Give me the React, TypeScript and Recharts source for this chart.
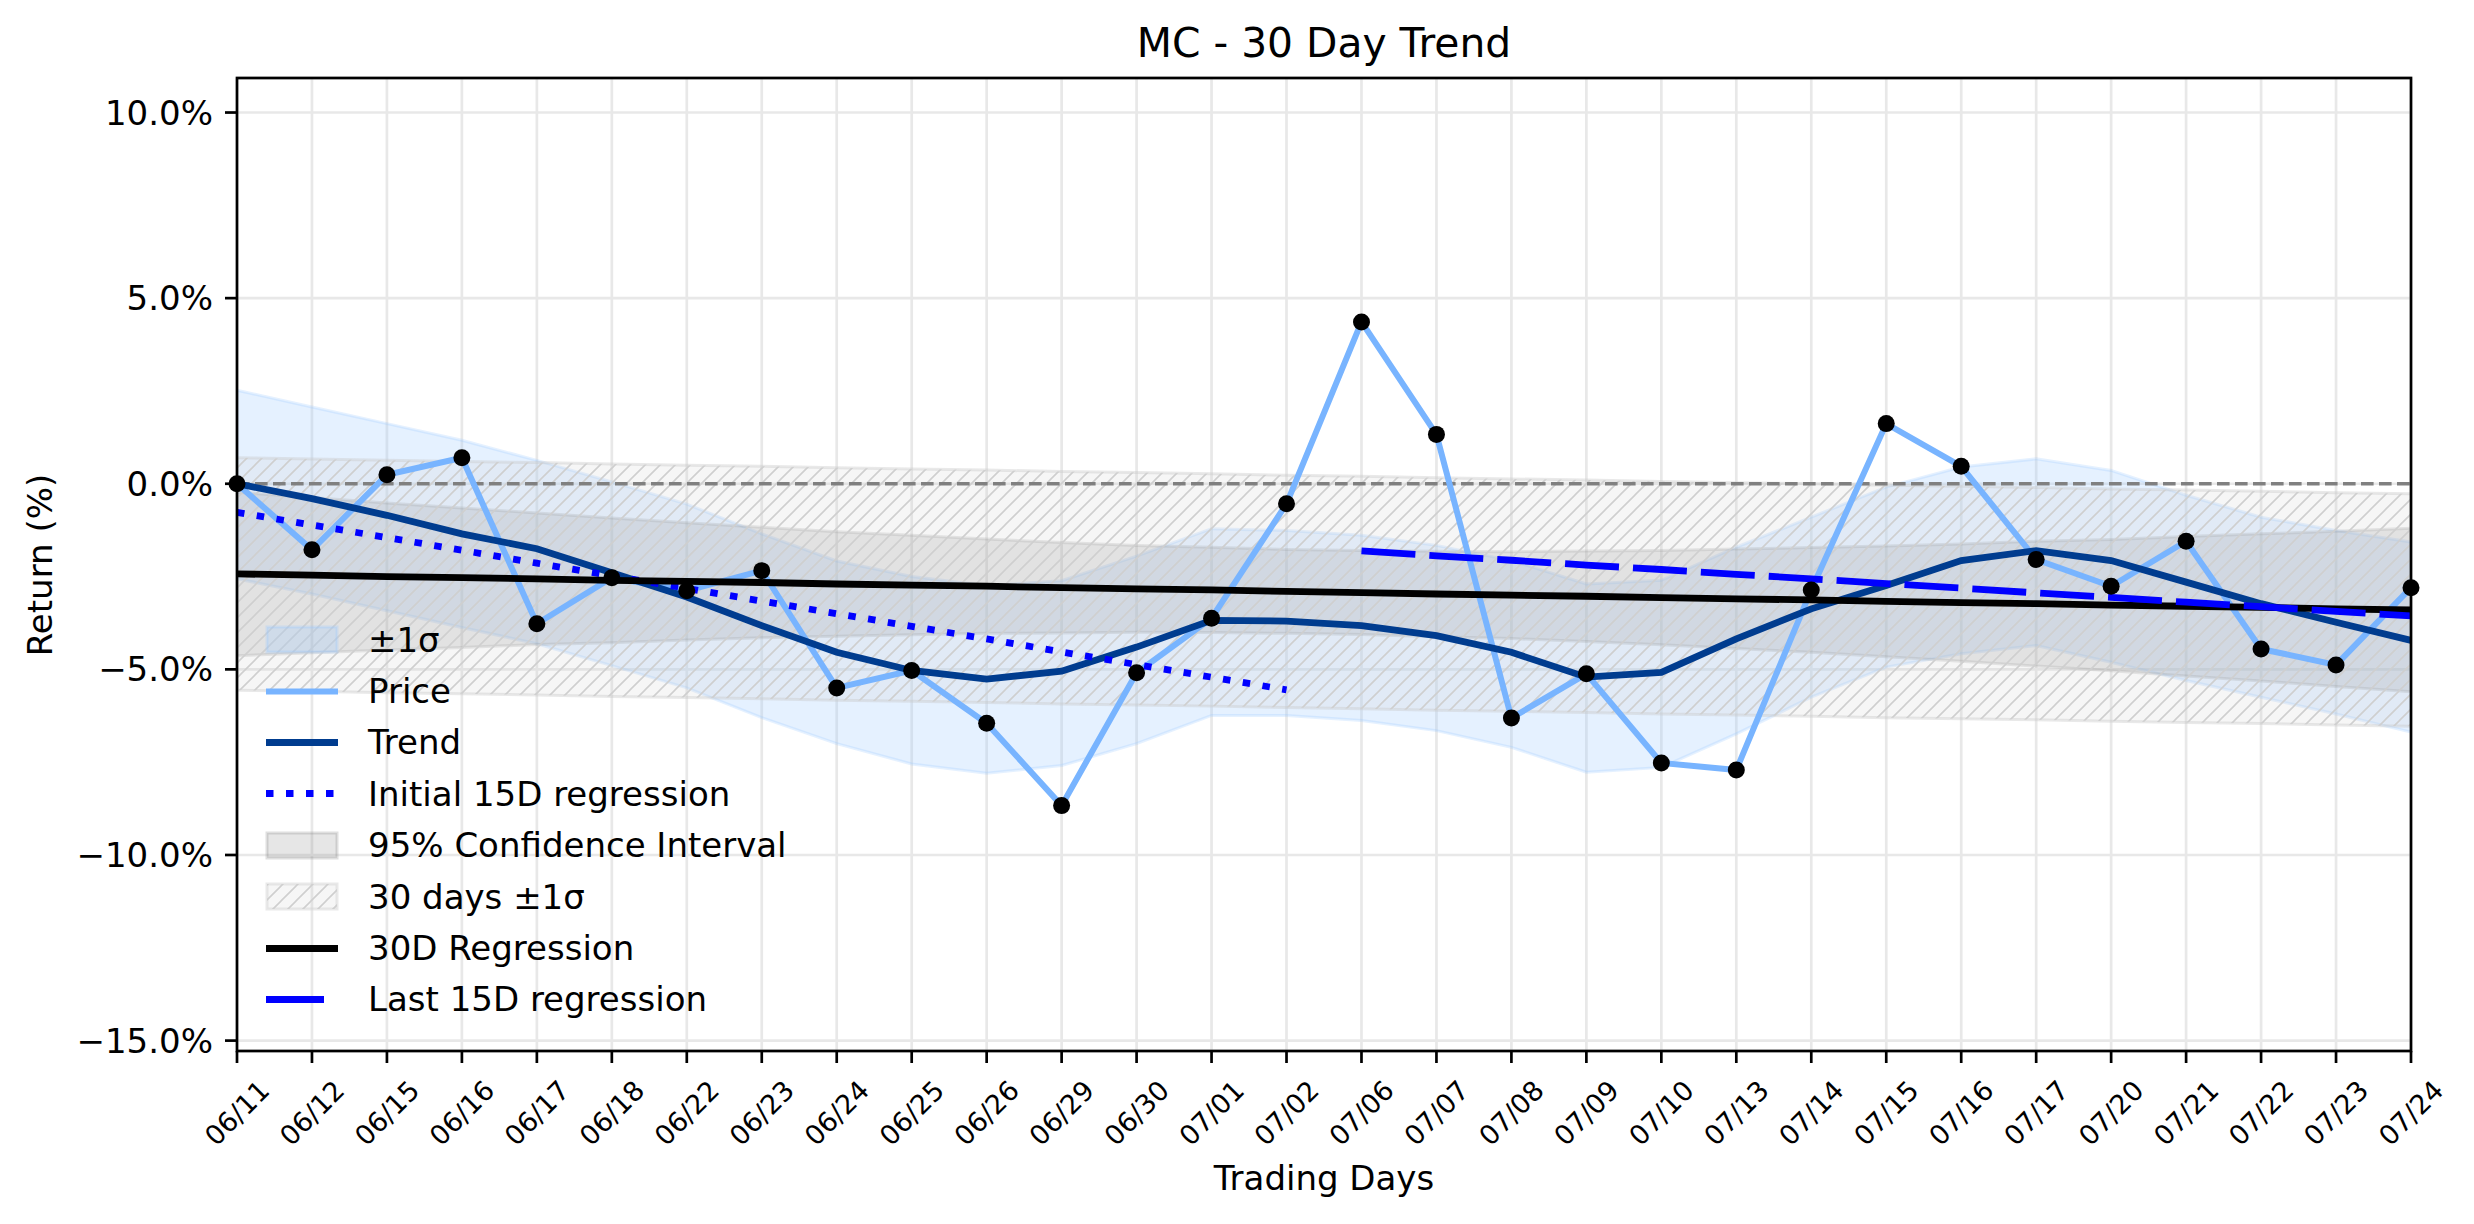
import React from 'react';
import { ComposedChart, Area, Line, XAxis, YAxis, CartesianGrid, ReferenceLine } from 'recharts';

const dates = [
  '06/11', '06/12', '06/15', '06/16', '06/17', '06/18', '06/22', '06/23', '06/24', '06/25',
  '06/26', '06/29', '06/30', '07/01', '07/02', '07/06', '07/07', '07/08', '07/09', '07/10',
  '07/13', '07/14', '07/15', '07/16', '07/17', '07/20', '07/21', '07/22', '07/23', '07/24',
];

const price = [
  0, -1.78, 0.24, 0.7, -3.77, -2.53, -2.88, -2.34, -5.5, -5.03,
  -6.45, -8.67, -5.09, -3.62, -0.54, 4.36, 1.33, -6.31, -5.12, -7.52,
  -7.71, -2.86, 1.62, 0.47, -2.04, -2.76, -1.55, -4.45, -4.88, -2.8,
];

const trend = [
  0, -0.4, -0.85, -1.35, -1.75, -2.4, -3.05, -3.82, -4.54, -5.03,
  -5.26, -5.05, -4.4, -3.68, -3.7, -3.82, -4.09, -4.54, -5.21, -5.08,
  -4.18, -3.37, -2.74, -2.07, -1.8, -2.07, -2.65, -3.23, -3.73, -4.22,
];

const sigmaHigh = [
  2.52, 2.07, 1.62, 1.17, 0.63, 0.05, -0.55, -1.35, -2.08, -2.5,
  -2.75, -2.61, -1.95, -1.21, -1.26, -1.39, -1.66, -2.07, -2.7, -2.6,
  -1.71, -0.9, -0.09, 0.45, 0.67, 0.36, -0.31, -0.9, -1.26, -1.57,
];

const sigmaLow = [
  -2.56, -2.97, -3.42, -3.87, -4.31, -4.9, -5.5, -6.3, -7.0, -7.55,
  -7.8, -7.59, -7.0, -6.24, -6.24, -6.38, -6.65, -7.1, -7.77, -7.64,
  -6.74, -5.75, -4.94, -4.58, -4.36, -4.81, -5.3, -5.75, -6.2, -6.69,
];

const firstReg = [
  -0.77, -1.11, -1.45, -1.79, -2.14, -2.48, -2.82, -3.16, -3.5, -3.84,
  -4.18, -4.53, -4.87, -5.21, -5.55,
];

const lastReg = [
  -1.81, -1.94, -2.06, -2.19, -2.31, -2.44, -2.56, -2.69, -2.81, -2.94,
  -3.06, -3.19, -3.31, -3.44, -3.56,
];

const reg30 = [
  -2.43, -2.46, -2.5, -2.53, -2.56, -2.6, -2.63, -2.66, -2.7, -2.73,
  -2.76, -2.8, -2.83, -2.86, -2.9, -2.93, -2.97, -3.0, -3.03, -3.07,
  -3.1, -3.13, -3.17, -3.2, -3.23, -3.27, -3.3, -3.33, -3.37, -3.4,
];

const ciHigh = [
  -0.23, -0.37, -0.52, -0.65, -0.79, -0.92, -1.05, -1.17, -1.29, -1.39,
  -1.49, -1.58, -1.66, -1.71, -1.77, -1.8, -1.82, -1.83, -1.81, -1.8,
  -1.76, -1.72, -1.68, -1.62, -1.55, -1.5, -1.42, -1.35, -1.28, -1.2,
];

const ciLow = [
  -4.63, -4.55, -4.48, -4.41, -4.33, -4.28, -4.21, -4.15, -4.11, -4.07,
  -4.03, -4.02, -4.0, -4.01, -4.03, -4.06, -4.12, -4.17, -4.25, -4.34,
  -4.44, -4.54, -4.66, -4.78, -4.91, -5.04, -5.18, -5.31, -5.46, -5.6,
];

const band30High = [
  0.7, 0.67, 0.63, 0.6, 0.57, 0.53, 0.5, 0.47, 0.43, 0.4,
  0.37, 0.33, 0.3, 0.27, 0.23, 0.2, 0.16, 0.13, 0.1, 0.06,
  0.03, 0.0, -0.04, -0.07, -0.1, -0.14, -0.17, -0.2, -0.24, -0.27,
];

const band30Low = [
  -5.56, -5.59, -5.63, -5.66, -5.69, -5.73, -5.76, -5.79, -5.83, -5.86,
  -5.89, -5.93, -5.96, -5.99, -6.03, -6.06, -6.1, -6.13, -6.16, -6.2,
  -6.23, -6.26, -6.3, -6.33, -6.36, -6.4, -6.43, -6.46, -6.5, -6.53,
];

const yTicks = [-15, -10, -5, 0, 5, 10];

const data = dates.map((d, i) => ({
  i,
  date: d,
  price: price[i],
  trend: trend[i],
  sigma: [sigmaLow[i], sigmaHigh[i]],
  ci: [ciLow[i], ciHigh[i]],
  band30: [band30Low[i], band30High[i]],
  reg30: reg30[i],
  firstReg: i < firstReg.length ? firstReg[i] : null,
  lastReg: i >= 15 ? lastReg[i - 15] : null,
}));

const FONT = '"DejaVu Sans", sans-serif';
const PRICE = '#78b4ff';
const TREND = '#003c8f';
const SIGMA = '#99c8ff';

// plot box in page pixels
const L = 237, R = 2411, T = 78, B = 1051;

const fmtPct = (v: number) => (v < 0 ? '\u2212' : '') + Math.abs(v).toFixed(1) + '%';

function XTick(props: any) {
  const { x, y, payload } = props;
  return (
    <g transform={`translate(${x},${y + 50})`}>
      <text transform="rotate(-45)" textAnchor="middle" dominantBaseline="central" fontSize={27} fontFamily={FONT} fill="#000">
        {dates[payload.value]}
      </text>
    </g>
  );
}

const legendItems = [
  { label: '\u00b11\u03c3', kind: 'sigma' },
  { label: 'Price', kind: 'price' },
  { label: 'Trend', kind: 'trend' },
  { label: 'Initial 15D regression', kind: 'first' },
  { label: '95% Confidence Interval', kind: 'ci' },
  { label: '30 days \u00b11\u03c3', kind: 'band' },
  { label: '30D Regression', kind: 'reg' },
  { label: 'Last 15D regression', kind: 'last' },
];

function Handle({ kind }: { kind: string }) {
  const line = (stroke: string, w: number, dash?: string, len = 72) => (
    <line x1={0} x2={len} y1={25.5} y2={25.5} stroke={stroke} strokeWidth={w} strokeDasharray={dash} />
  );
  let el: React.ReactNode = null;
  if (kind === 'sigma') el = <rect x={1} y={13} width={70} height={25} fill={SIGMA} fillOpacity={0.25} stroke={SIGMA} strokeOpacity={0.3} strokeWidth={3} />;
  if (kind === 'price') el = line(PRICE, 6);
  if (kind === 'trend') el = line(TREND, 6.8);
  if (kind === 'first') el = line('#0000ff', 6.8, '7.5 12.5');
  if (kind === 'ci') el = <rect x={1} y={13} width={70} height={25} fill="#808080" fillOpacity={0.2} stroke="#808080" strokeOpacity={0.25} strokeWidth={3} />;
  if (kind === 'band') el = (
    <g>
      <rect x={1} y={13} width={70} height={25} fill="#d3d3d3" fillOpacity={0.2} stroke="#d3d3d3" strokeOpacity={0.5} strokeWidth={3} />
      <rect x={1} y={13} width={70} height={25} fill="url(#hatch2)" />
    </g>
  );
  if (kind === 'reg') el = line('#000', 6.8);
  if (kind === 'last') el = line('#0000ff', 6.8, undefined, 58);
  return (
    <svg width={80} height={51} style={{ display: 'block', overflow: 'visible' }}>
      <defs>
        <pattern id="hatch2" patternUnits="userSpaceOnUse" width={15} height={15}>
          <path d="M-2,17 L17,-2 M-2,2 L2,-2 M13,17 L17,13" stroke="#cfcfcf" strokeWidth={1.6} />
        </pattern>
      </defs>
      {el}
    </svg>
  );
}

export default function App() {
  return (
    <div style={{ position: 'absolute', left: 0, top: 0, width: 2474, height: 1224, background: '#fff', fontFamily: FONT }}>
      <ComposedChart
        width={2474}
        height={1224}
        data={data}
        margin={{ top: T, right: 2474 - R, left: L - 150, bottom: 1224 - B - 150 }}
      >
        <defs>
          <pattern id="hatch" patternUnits="userSpaceOnUse" width={15} height={15}>
            <path d="M-2,17 L17,-2 M-2,2 L2,-2 M13,17 L17,13" stroke="#cfcfcf" strokeWidth={1.6} />
          </pattern>
        </defs>
        <CartesianGrid stroke="#e8e8e8" strokeWidth={2.7} />
        <XAxis
          dataKey="i"
          type="number"
          domain={[0, 29]}
          ticks={data.map((d) => d.i)}
          interval={0}
          height={150}
          axisLine={false}
          tickLine={{ stroke: '#000', strokeWidth: 2.7 }}
          tickSize={12}
          tickMargin={0}
          tick={<XTick />}
        />
        <YAxis
          type="number"
          domain={[-15.28, 10.93]}
          ticks={yTicks}
          allowDataOverflow
          width={150}
          axisLine={false}
          tickLine={{ stroke: '#000', strokeWidth: 2.7 }}
          tickSize={12}
          tickMargin={12}
          tickFormatter={fmtPct}
          tick={{ fontSize: 34, fill: '#000', fontFamily: FONT }}
        />
        <Area dataKey="sigma" type="linear" fill={SIGMA} fillOpacity={0.25} stroke={SIGMA} strokeOpacity={0.25} strokeWidth={3} isAnimationActive={false} dot={false} activeDot={false} />
        <Area dataKey="ci" type="linear" fill="#808080" fillOpacity={0.2} stroke="#808080" strokeOpacity={0.2} strokeWidth={3} isAnimationActive={false} dot={false} activeDot={false} />
        <Area dataKey="band30" type="linear" fill="#d3d3d3" fillOpacity={0.2} stroke="#c8c8c8" strokeOpacity={0.4} strokeWidth={3} isAnimationActive={false} dot={false} activeDot={false} />
        <Area dataKey="band30" type="linear" fill="url(#hatch)" fillOpacity={1} stroke="none" isAnimationActive={false} dot={false} activeDot={false} />
        <ReferenceLine y={0} stroke="#808080" strokeWidth={3.4} strokeDasharray="12.6 5.4" />
        <Line dataKey="price" type="linear" stroke={PRICE} strokeWidth={6} dot={false} activeDot={false} isAnimationActive={false} />
        <Line dataKey="trend" type="linear" stroke={TREND} strokeWidth={6.8} dot={false} activeDot={false} isAnimationActive={false} />
        <Line dataKey="firstReg" type="linear" stroke="#0000ff" strokeWidth={6.8} strokeDasharray="7.5 12.5" dot={false} activeDot={false} connectNulls={false} isAnimationActive={false} />
        <Line dataKey="reg30" type="linear" stroke="#000" strokeWidth={6.8} dot={false} activeDot={false} isAnimationActive={false} />
        <Line dataKey="lastReg" type="linear" stroke="#0000ff" strokeWidth={6.8} strokeDasharray="54 14" dot={false} activeDot={false} connectNulls={false} isAnimationActive={false} />
        <Line dataKey="price" type="linear" stroke="none" strokeWidth={0} dot={{ r: 8.5, fill: '#000', stroke: 'none' }} activeDot={false} isAnimationActive={false} />
      </ComposedChart>

      <svg width={2474} height={1224} style={{ position: 'absolute', left: 0, top: 0, pointerEvents: 'none' }}>
        <rect x={L} y={T} width={R - L} height={B - T} fill="none" stroke="#000" strokeWidth={2.7} />
      </svg>

      <div style={{ position: 'absolute', left: L, width: R - L, top: 20, textAlign: 'center', fontSize: 40.8, lineHeight: '46px', color: '#000' }}>
        MC - 30 Day Trend
      </div>
      <div style={{ position: 'absolute', left: L, width: R - L, top: 1158, textAlign: 'center', fontSize: 34, lineHeight: '40px', color: '#000' }}>
        Trading Days
      </div>
      <div
        style={{
          position: 'absolute',
          left: 40 - 200,
          top: (T + B) / 2 - 20,
          width: 400,
          height: 40,
          textAlign: 'center',
          fontSize: 34,
          lineHeight: '40px',
          transform: 'rotate(-90deg)',
          color: '#000',
        }}
      >
        Return (%)
      </div>

      <div style={{ position: 'absolute', left: 266, top: 614 }}>
        {legendItems.map((it) => (
          <div key={it.label} style={{ display: 'flex', alignItems: 'center', height: 51.4 }}>
            <Handle kind={it.kind} />
            <span style={{ marginLeft: 22, fontSize: 34, lineHeight: '40px', color: '#000', whiteSpace: 'nowrap' }}>{it.label}</span>
          </div>
        ))}
      </div>
    </div>
  );
}
